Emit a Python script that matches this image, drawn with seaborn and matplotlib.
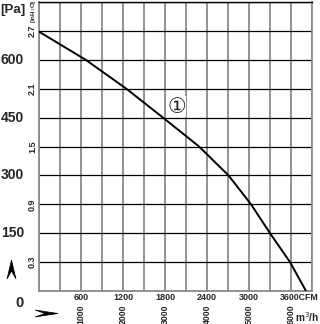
import matplotlib
matplotlib.use("Agg")
import matplotlib.pyplot as plt
import seaborn as sns
import pandas as pd
from matplotlib.patches import Polygon

# ---- data ----
flow_cfm = [0, 667, 1247, 1771, 2286, 2707, 3029, 3300, 3586, 3814]
pressure_pa = [673, 600, 525, 450, 375, 300, 225, 150, 75, 0]

pa_ticks = [150, 300, 450, 600]
inh2o_labels = ["0.3", "0.9", "1.5", "2.1", "2.7"]
inh2o_pos_pa = [75, 225, 375, 525, 675]
cfm_ticks = [600, 1200, 1800, 2400, 3000]
m3h_labels = ["1000", "2000", "3000", "4000", "5000", "6000"]
m3h_pos_cfm = [600, 1200, 1800, 2400, 3000, 3600]

df = pd.DataFrame({"cfm": flow_cfm, "pa": pressure_pa})

sns.set_style("white")
FONT = ["Liberation Sans Narrow", "Liberation Sans", "DejaVu Sans"]
plt.rcParams["font.family"] = FONT

W, H = 320, 324
fig = plt.figure(figsize=(W / 100, H / 100), dpi=100)
L, R, T, B = 39, 312, 2, 291
ax = fig.add_axes([L / W, 1 - B / H, (R - L) / W, (B - T) / H])

XMAX, YMAX = 3900, 750
ax.set_xlim(0, XMAX)
ax.set_ylim(0, YMAX)

# grid
for xv in range(0, XMAX + 1, 300):
    ax.axvline(xv, color="#8a8a8a", lw=1.3, zorder=1)
for yv in range(0, YMAX + 1, 75):
    ax.axhline(yv, color="black" if yv > 0 else "#8a8a8a", lw=0.9, zorder=2)

sns.lineplot(data=df, x="cfm", y="pa", color="black", lw=1.4, ax=ax, zorder=3)

ax.set_xticks([])
ax.set_yticks([])
ax.set_xlabel("")
ax.set_ylabel("")
for s in ["left", "bottom", "right"]:
    ax.spines[s].set_color("#8a8a8a")
    ax.spines[s].set_linewidth(1.3)
ax.spines["top"].set_color("black")
ax.spines["top"].set_linewidth(1.0)

def fy(pa):
    return 1 - (B - pa / YMAX * (B - T)) / H

def fx(cfm):
    return (L + cfm / XMAX * (R - L)) / W

# Pa labels (left)
for v in pa_ticks:
    fig.text(24 / W, fy(v), str(v), ha="right", va="center", fontsize=10,
             fontweight="bold")
fig.text(19 / W, 1 - 303 / H, "0", ha="center", va="center", fontsize=10.5,
         fontweight="bold")
fig.text(13 / W, 1 - 10 / H, "[Pa]", ha="center", va="center", fontsize=9.5,
         fontweight="bold")

# inH2O labels (rotated)
for lab, pv in zip(inh2o_labels, inh2o_pos_pa):
    fig.text(32.5 / W, fy(pv), lab, rotation=90, ha="center", va="center",
             fontsize=6.5, fontweight="bold")
fig.text(33 / W, 1 - 11 / H, "[inH$_2$O]", rotation=90, ha="center",
         va="center", fontsize=4.5, fontweight="bold")

# CFM labels
for v in cfm_ticks:
    fig.text(fx(v), 1 - 298 / H, str(v), ha="center", va="center",
             fontsize=6.5, fontweight="bold")
fig.text(280 / W, 1 - 298 / H, "3600CFM", ha="left", va="center",
         fontsize=6.3, fontweight="bold")

# m3/h labels
for lab, xv in zip(m3h_labels, m3h_pos_cfm):
    fig.text(fx(xv), 1 - 314 / H, lab, rotation=90, ha="center", va="center",
             fontsize=6.3, fontweight="bold")
fig.text(319 / W, 1 - 317 / H, "m$^3$/h", ha="right", va="center",
         fontsize=7.3, fontweight="bold")

# curve marker
ax.text(1967, 478, "\u2460", ha="center", va="center", fontsize=15,
        family=["DejaVu Sans", "Noto Sans CJK SC"], zorder=4,
        bbox=dict(boxstyle="square,pad=0.02", fc="white", ec="none"))

# arrows
def fpoly(pts):
    return Polygon([(x / W, 1 - y / H) for x, y in pts], closed=True,
                   transform=fig.transFigure, fc="black", ec="black", lw=0.5)

fig.add_artist(fpoly([(7, 279), (11.5, 260), (16, 279), (11.5, 271)]))
fig.add_artist(fpoly([(35, 310), (58, 313.5), (35, 317), (45, 313.5)]))

fig.savefig("out.png", dpi=100)
